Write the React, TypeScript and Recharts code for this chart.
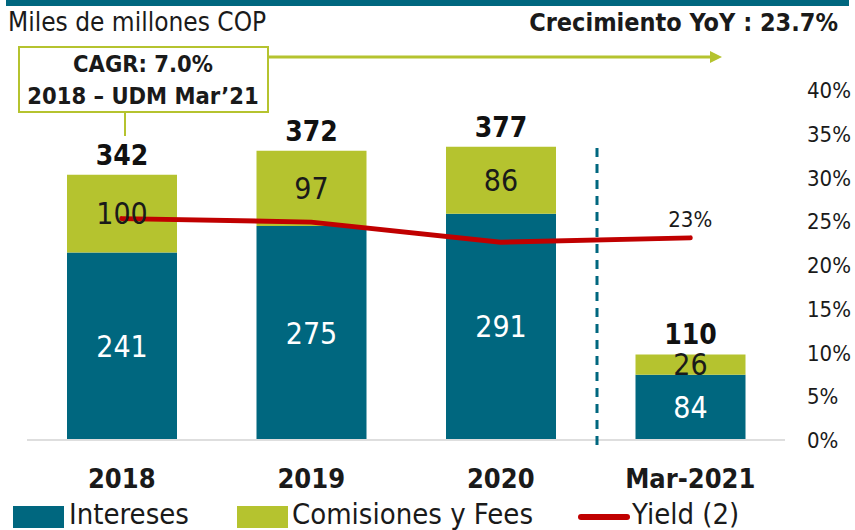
import React from 'react';
import { ComposedChart, Bar, Line, XAxis, YAxis, LabelList, Legend } from 'recharts';

const categories = ['2018', '2019', '2020', 'Mar-2021'];
const intereses = [241, 275, 291, 84];
const comisiones = [100, 97, 86, 26];
const totals = [342, 372, 377, 110];
const yieldVals = [0.253, 0.249, 0.226, 0.231];
const yieldLabels = ['', '', '', '23%'];
const pctTicks = [0, 0.05, 0.1, 0.15, 0.2, 0.25, 0.3, 0.35, 0.4];

const data = categories.map((c, i) => ({
  cat: c,
  intereses: intereses[i],
  comisiones: comisiones[i],
  total: totals[i],
  yld: yieldVals[i],
  yLabel: yieldLabels[i],
}));

const FONT = '"DejaVu Sans Condensed", "Liberation Sans Narrow", "Roboto Condensed", Roboto, sans-serif';
const TEAL = '#00677F';
const GREEN = '#B5C32F';
const RED = '#C00000';

const XTick = (props: any) => {
  const { x, y, payload } = props;
  return (
    <text x={x} y={y + 40} textAnchor="middle" fontFamily={FONT} fontWeight="bold" fontSize={27} fill="#1a1a1a">
      {payload.value}
    </text>
  );
};

const RTick = (props: any) => {
  const { x, y, payload } = props;
  return (
    <text x={x + 14} y={y + 8} textAnchor="start" fontFamily={FONT} fontSize={22} fill="#1a1a1a">
      {Math.round(payload.value * 100) + '%'}
    </text>
  );
};

const TotalLabel = (props: any) => {
  const { x, y, width, index } = props;
  return (
    <text x={x + width / 2} y={y - 10} textAnchor="middle" fontFamily={FONT} fontWeight="bold" fontSize={28} fill="#111">
      {totals[index]}
    </text>
  );
};

const YieldLabel = (props: any) => {
  const { x, y, index } = props;
  if (!yieldLabels[index]) return null;
  return (
    <text x={x} y={y - 11} textAnchor="middle" fontFamily={FONT} fontSize={22} fill="#1a1a1a">
      {yieldLabels[index]}
    </text>
  );
};

const LegendContent = () => (
  <div style={{ position: 'relative', width: 855, height: 34, fontFamily: FONT, fontSize: 29, color: '#1a1a1a' }}>
    <div style={{ position: 'absolute', left: 13, top: 14, width: 51, height: 22, background: TEAL }} />
    <div style={{ position: 'absolute', left: 69, top: 5, lineHeight: '34px', whiteSpace: 'nowrap' }}>Intereses</div>
    <div style={{ position: 'absolute', left: 237, top: 14, width: 51, height: 22, background: GREEN }} />
    <div style={{ position: 'absolute', left: 292, top: 5, lineHeight: '34px', whiteSpace: 'nowrap' }}>Comisiones y Fees</div>
    <div style={{ position: 'absolute', left: 578, top: 22, width: 52, height: 6, background: RED, borderRadius: 3 }} />
    <div style={{ position: 'absolute', left: 632, top: 5, lineHeight: '34px', whiteSpace: 'nowrap' }}>Yield (2)</div>
  </div>
);

export default function App() {
  return (
    <div style={{ position: 'absolute', left: 0, top: 0, width: 855, height: 530, background: '#fff', fontFamily: FONT }}>
      <ComposedChart
        width={855}
        height={530}
        data={data}
        margin={{ top: 90, right: 0, left: 27, bottom: 4 }}
        barCategoryGap={79}
      >
        <XAxis
          dataKey="cat"
          axisLine={{ stroke: '#dedede', strokeWidth: 2 }}
          tickLine={false}
          tick={<XTick />}
          height={52}
          interval={0}
        />
        <YAxis yAxisId="left" hide domain={[0, 450]} />
        <YAxis
          yAxisId="right"
          orientation="right"
          width={70}
          domain={[0, 0.4]}
          ticks={pctTicks}
          axisLine={false}
          tickLine={false}
          tick={<RTick />}
          interval={0}
        />
        <Legend
          verticalAlign="bottom"
          height={34}
          content={<LegendContent />}
          wrapperStyle={{ left: 0, width: 855 }}
        />
        <Bar yAxisId="left" dataKey="intereses" stackId="a" fill={TEAL} barSize={110} isAnimationActive={false}>
          <LabelList dataKey="intereses" position="center" fill="#ffffff" fontSize={30} fontFamily={FONT} />
        </Bar>
        <Bar yAxisId="left" dataKey="comisiones" stackId="a" fill={GREEN} barSize={110} isAnimationActive={false}>
          <LabelList dataKey="comisiones" position="center" fill="#1a1a1a" fontSize={30} fontFamily={FONT} />
          <LabelList dataKey="total" content={<TotalLabel />} />
        </Bar>
        <Line
          yAxisId="right"
          dataKey="yld"
          stroke={RED}
          strokeWidth={5}
          dot={false}
          type="linear"
          strokeLinecap="round"
          isAnimationActive={false}
        >
          <LabelList dataKey="yLabel" content={<YieldLabel />} />
        </Line>
      </ComposedChart>

      <svg width={855} height={530} style={{ position: 'absolute', left: 0, top: 0, pointerEvents: 'none' }}>
        <rect x={6} y={0} width={843} height={6} fill={TEAL} />
        <text x={8} y={31} fontFamily={FONT} fontSize={26} fill="#1a1a1a">Miles de millones COP</text>
        <text x={838} y={31} textAnchor="end" fontFamily={FONT} fontWeight="bold" fontSize={25} fill="#1a1a1a">Crecimiento YoY : 23.7%</text>
        <line x1={268} y1={57} x2={712} y2={57} stroke={GREEN} strokeWidth={3} />
        <polygon points="710,51 722,57 710,63" fill={GREEN} />
        <line x1={125} y1={112} x2={125} y2={136} stroke={GREEN} strokeWidth={2} />
        <rect x={19} y={47} width={249} height={65} fill="#fff" stroke={GREEN} strokeWidth={2} />
        <text x={143} y={72} textAnchor="middle" fontFamily={FONT} fontWeight="bold" fontSize={23.5} fill="#1a1a1a">CAGR: 7.0%</text>
        <text x={143} y={104} textAnchor="middle" fontFamily={FONT} fontWeight="bold" fontSize={23.5} fill="#1a1a1a">2018 – UDM Mar’21</text>
        <line x1={597} y1={148} x2={597} y2={448} stroke={TEAL} strokeWidth={3} strokeDasharray="9 7" />
      </svg>
    </div>
  );
}
